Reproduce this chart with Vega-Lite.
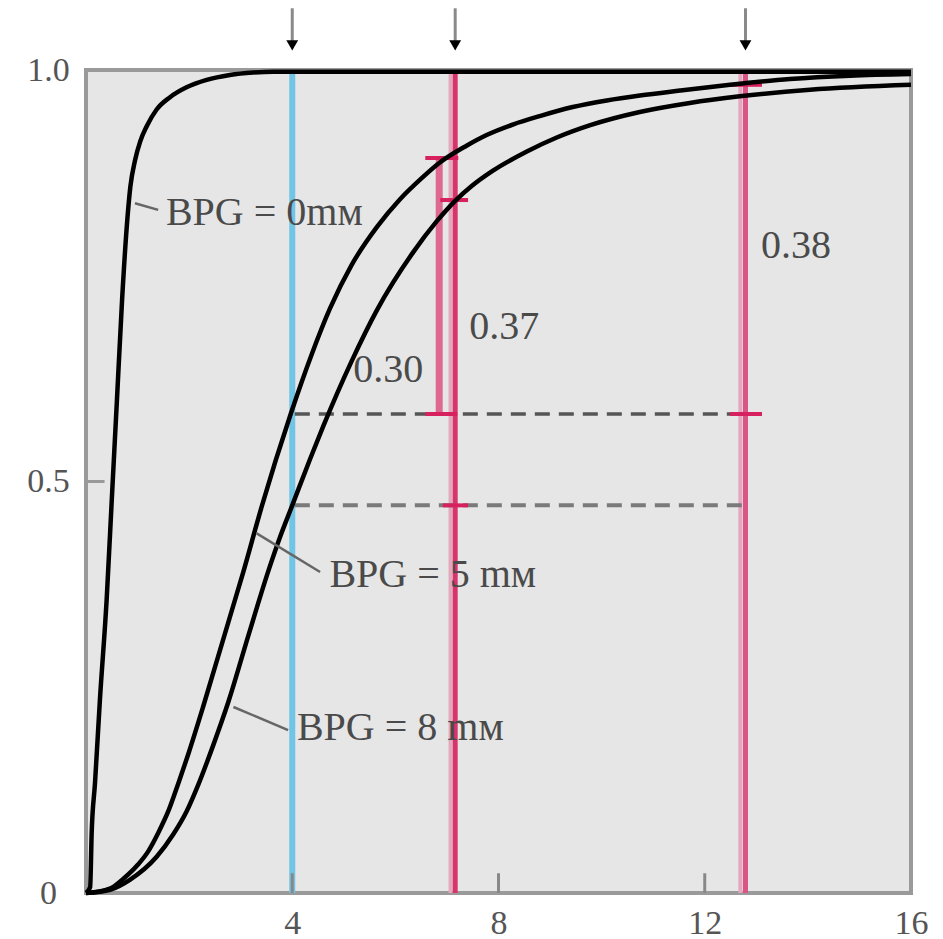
{
  "$schema": "https://vega.github.io/schema/vega-lite/v6.json",
  "autosize": {"type": "none"},
  "width": 825,
  "height": 823,
  "padding": {"left": 86, "top": 70, "right": 32, "bottom": 46},
  "background": "white",
  "config": {
    "view": {"fill": "#E6E6E6", "stroke": "#9A9A9A", "strokeWidth": 4},
    "axis": {"grid": false, "domain": false, "ticks": false, "labelFlush": false, "labelFont": "Liberation Serif", "labelFontSize": 34, "labelColor": "#555555", "title": null}
  },
  "datasets": {
    "curves": [
      {"s": "0", "x": 0, "y": 0}, {"s": "0", "x": 0.08, "y": 0.007}, {"s": "0", "x": 0.11, "y": 0.073}, {"s": "0", "x": 0.175, "y": 0.134},
      {"s": "0", "x": 0.27, "y": 0.235}, {"s": "0", "x": 0.40, "y": 0.356}, {"s": "0", "x": 0.50, "y": 0.478}, {"s": "0", "x": 0.60, "y": 0.599},
      {"s": "0", "x": 0.70, "y": 0.721}, {"s": "0", "x": 0.79, "y": 0.809}, {"s": "0", "x": 0.86, "y": 0.858}, {"s": "0", "x": 0.95, "y": 0.89},
      {"s": "0", "x": 1.05, "y": 0.913}, {"s": "0", "x": 1.18, "y": 0.932}, {"s": "0", "x": 1.37, "y": 0.952}, {"s": "0", "x": 1.63, "y": 0.967},
      {"s": "0", "x": 1.95, "y": 0.979}, {"s": "0", "x": 2.34, "y": 0.988}, {"s": "0", "x": 2.79, "y": 0.994}, {"s": "0", "x": 3.24, "y": 0.997},
      {"s": "0", "x": 3.63, "y": 0.998}, {"s": "0", "x": 16, "y": 0.998},
      {"s": "5", "x": 0, "y": 0}, {"s": "5", "x": 0.27, "y": 0.002}, {"s": "5", "x": 0.52, "y": 0.007}, {"s": "5", "x": 0.72, "y": 0.017},
      {"s": "5", "x": 1.0, "y": 0.034}, {"s": "5", "x": 1.2, "y": 0.05}, {"s": "5", "x": 1.4, "y": 0.073}, {"s": "5", "x": 1.6, "y": 0.1},
      {"s": "5", "x": 1.8, "y": 0.135}, {"s": "5", "x": 2.0, "y": 0.172}, {"s": "5", "x": 2.27, "y": 0.226}, {"s": "5", "x": 2.66, "y": 0.308},
      {"s": "5", "x": 3.05, "y": 0.39}, {"s": "5", "x": 3.41, "y": 0.47}, {"s": "5", "x": 3.97, "y": 0.582},
      {"s": "5", "x": 4.38, "y": 0.655}, {"s": "5", "x": 4.73, "y": 0.71}, {"s": "5", "x": 5.15, "y": 0.763}, {"s": "5", "x": 5.64, "y": 0.809},
      {"s": "5", "x": 6.09, "y": 0.843}, {"s": "5", "x": 6.5, "y": 0.868}, {"s": "5", "x": 6.85, "y": 0.887}, {"s": "5", "x": 7.38, "y": 0.908},
      {"s": "5", "x": 7.77, "y": 0.921}, {"s": "5", "x": 8.29, "y": 0.934}, {"s": "5", "x": 8.8, "y": 0.944}, {"s": "5", "x": 9.44, "y": 0.955},
      {"s": "5", "x": 10.1, "y": 0.963}, {"s": "5", "x": 10.74, "y": 0.969}, {"s": "5", "x": 11.52, "y": 0.975}, {"s": "5", "x": 12.49, "y": 0.982},
      {"s": "5", "x": 13.65, "y": 0.989}, {"s": "5", "x": 14.82, "y": 0.993}, {"s": "5", "x": 16, "y": 0.995},
      {"s": "8", "x": 0, "y": 0}, {"s": "8", "x": 0.47, "y": 0.004}, {"s": "8", "x": 0.85, "y": 0.016}, {"s": "8", "x": 1.37, "y": 0.044},
      {"s": "8", "x": 1.69, "y": 0.071}, {"s": "8", "x": 1.95, "y": 0.099}, {"s": "8", "x": 2.18, "y": 0.132}, {"s": "8", "x": 2.47, "y": 0.18},
      {"s": "8", "x": 2.76, "y": 0.232}, {"s": "8", "x": 3.15, "y": 0.313}, {"s": "8", "x": 3.54, "y": 0.392}, {"s": "8", "x": 3.76, "y": 0.432},
      {"s": "8", "x": 4.0, "y": 0.471}, {"s": "8", "x": 4.35, "y": 0.528}, {"s": "8", "x": 4.6, "y": 0.567}, {"s": "8", "x": 5.15, "y": 0.646},
      {"s": "8", "x": 5.64, "y": 0.708}, {"s": "8", "x": 6.35, "y": 0.779}, {"s": "8", "x": 6.8, "y": 0.816}, {"s": "8", "x": 7.16, "y": 0.841},
      {"s": "8", "x": 7.48, "y": 0.859}, {"s": "8", "x": 7.9, "y": 0.878}, {"s": "8", "x": 8.55, "y": 0.901}, {"s": "8", "x": 9.13, "y": 0.918},
      {"s": "8", "x": 9.78, "y": 0.933}, {"s": "8", "x": 10.74, "y": 0.949}, {"s": "8", "x": 11.71, "y": 0.96}, {"s": "8", "x": 12.68, "y": 0.968},
      {"s": "8", "x": 14.04, "y": 0.976}, {"s": "8", "x": 16, "y": 0.982}
    ]
  },
  "encoding": {
    "x": {"type": "quantitative", "scale": {"domain": [0, 16], "nice": false, "zero": false}},
    "y": {"type": "quantitative", "scale": {"domain": [0, 1], "nice": false, "zero": false}}
  },
  "layer": [
    {
      "data": {"values": [{"x": 4, "y": 0, "y2": 1}]},
      "mark": {"type": "rule", "color": "#70C4E6", "strokeWidth": 6},
      "encoding": {
        "x": {"field": "x", "type": "quantitative", "axis": {"values": [4, 8, 12, 16], "labelPadding": 13, "labelBaseline": "top", "format": "d"}},
        "y": {"field": "y", "type": "quantitative", "axis": {"values": [0, 0.5, 1], "labelPadding": 38, "labelAlign": "center", "labelExpr": "datum.value == 1 ? '1.0' : datum.value == 0 ? '0' : '0.5'"}},
        "y2": {"field": "y2"}
      }
    },
    {
      "data": {"values": [{"x": 7.07, "y": 0, "y2": 1}, {"x": 12.69, "y": 0, "y2": 1}]},
      "mark": {"type": "rule", "color": "#E4A8BE", "strokeWidth": 4},
      "encoding": {"x": {"field": "x"}, "y": {"field": "y"}, "y2": {"field": "y2"}}
    },
    {
      "data": {"values": [{"x": 7.16, "y": 0, "y2": 1}]},
      "mark": {"type": "rule", "color": "#D8346C", "strokeWidth": 5},
      "encoding": {"x": {"field": "x"}, "y": {"field": "y"}, "y2": {"field": "y2"}}
    },
    {
      "data": {"values": [{"x": 12.79, "y": 0, "y2": 1}]},
      "mark": {"type": "rule", "color": "#DA5583", "strokeWidth": 5},
      "encoding": {"x": {"field": "x"}, "y": {"field": "y"}, "y2": {"field": "y2"}}
    },
    {
      "data": {"values": [{"x": 6.85, "y": 0.582, "y2": 0.893}]},
      "mark": {"type": "rule", "color": "#DD6990", "strokeWidth": 7},
      "encoding": {"x": {"field": "x"}, "y": {"field": "y"}, "y2": {"field": "y2"}}
    },
    {
      "data": {"values": [{"x": 4.05, "x2": 12.79, "y": 0.582}]},
      "mark": {"type": "rule", "color": "#555555", "strokeWidth": 3.5, "strokeDash": [15, 9]},
      "encoding": {"x": {"field": "x"}, "x2": {"field": "x2"}, "y": {"field": "y"}}
    },
    {
      "data": {"values": [{"x": 4.05, "x2": 12.75, "y": 0.471}]},
      "mark": {"type": "rule", "color": "#7A7A7A", "strokeWidth": 4, "strokeDash": [15, 9]},
      "encoding": {"x": {"field": "x"}, "x2": {"field": "x2"}, "y": {"field": "y"}}
    },
    {
      "data": {"values": [
        {"x": 6.58, "x2": 7.22, "y": 0.893},
        {"x": 6.58, "x2": 7.2, "y": 0.582},
        {"x": 6.87, "x2": 7.41, "y": 0.842},
        {"x": 6.92, "x2": 7.41, "y": 0.471},
        {"x": 12.49, "x2": 13.11, "y": 0.982},
        {"x": 12.49, "x2": 13.11, "y": 0.582}
      ]},
      "mark": {"type": "rule", "color": "#D6215E", "strokeWidth": 4},
      "encoding": {"x": {"field": "x"}, "x2": {"field": "x2"}, "y": {"field": "y"}}
    },
    {
      "data": {"name": "curves"},
      "mark": {"type": "line", "color": "#000000", "strokeWidth": 4.5, "interpolate": "monotone"},
      "encoding": {"x": {"field": "x"}, "y": {"field": "y"}, "detail": {"field": "s", "type": "nominal"}}
    },
    {
      "data": {"values": [
        {"x": 0.95, "y": 0.838, "x2": 1.40, "y2": 0.83},
        {"x": 3.31, "y": 0.437, "x2": 4.54, "y2": 0.39},
        {"x": 2.86, "y": 0.226, "x2": 3.92, "y2": 0.198}
      ]},
      "mark": {"type": "rule", "color": "#666666", "strokeWidth": 2.5},
      "encoding": {"x": {"field": "x"}, "y": {"field": "y"}, "x2": {"field": "x2"}, "y2": {"field": "y2"}}
    },
    {
      "data": {"values": [
        {"x": 1.55, "y": 0.826, "t": "BPG = 0mᴍ"},
        {"x": 4.72, "y": 0.386, "t": "BPG = 5 mᴍ"},
        {"x": 4.09, "y": 0.2, "t": "BPG = 8 mᴍ"}
      ]},
      "mark": {"type": "text", "align": "left", "baseline": "middle", "font": "Liberation Serif", "fontSize": 40, "color": "#4A4A4A"},
      "encoding": {"x": {"field": "x"}, "y": {"field": "y"}, "text": {"field": "t"}}
    },
    {
      "data": {"values": [
        {"x": 5.86, "y": 0.636, "t": "0.30"},
        {"x": 8.11, "y": 0.688, "t": "0.37"},
        {"x": 13.77, "y": 0.786, "t": "0.38"}
      ]},
      "mark": {"type": "text", "align": "center", "baseline": "middle", "font": "Liberation Serif", "fontSize": 40, "color": "#4A4A4A"},
      "encoding": {"x": {"field": "x"}, "y": {"field": "y"}, "text": {"field": "t"}}
    },
    {
      "data": {"values": [{"x": 8, "y": 0, "y2": 0.024}, {"x": 12, "y": 0, "y2": 0.024}, {"x": 4, "y": 0, "y2": 0.024}]},
      "mark": {"type": "rule", "color": "#888888", "strokeWidth": 3},
      "encoding": {"x": {"field": "x"}, "y": {"field": "y"}, "y2": {"field": "y2"}}
    },
    {
      "data": {"values": [{"x": 0, "x2": 0.36, "y": 0.5}]},
      "mark": {"type": "rule", "color": "#999999", "strokeWidth": 3},
      "encoding": {"x": {"field": "x"}, "x2": {"field": "x2"}, "y": {"field": "y"}}
    },
    {
      "data": {"values": [{"x": 4, "y": 1.035, "y2": 1.075}, {"x": 7.16, "y": 1.035, "y2": 1.075}, {"x": 12.79, "y": 1.035, "y2": 1.075}]},
      "mark": {"type": "rule", "color": "#8A8A8A", "strokeWidth": 3},
      "encoding": {"x": {"field": "x"}, "y": {"field": "y"}, "y2": {"field": "y2"}}
    },
    {
      "data": {"values": [{"x": 4, "y": 1.03}, {"x": 7.16, "y": 1.03}, {"x": 12.79, "y": 1.03}]},
      "mark": {"type": "point", "shape": "triangle-down", "filled": true, "color": "#000000", "size": 140, "opacity": 1},
      "encoding": {"x": {"field": "x"}, "y": {"field": "y"}}
    }
  ]
}
